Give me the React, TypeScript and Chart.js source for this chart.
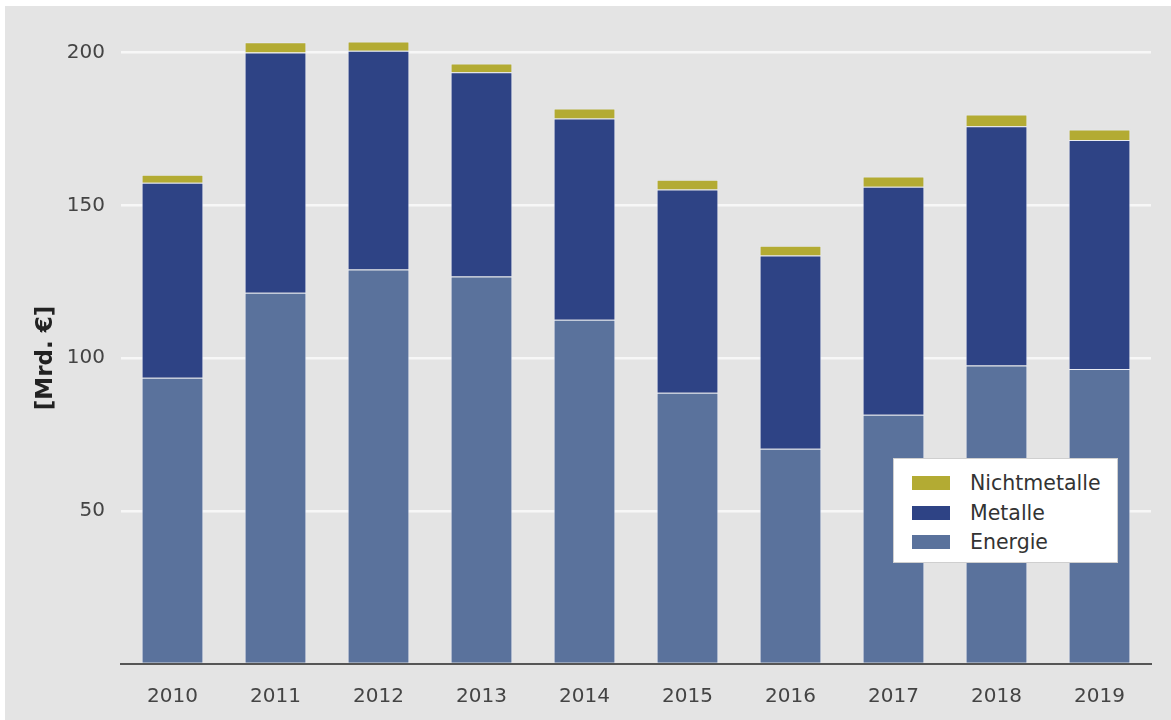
import React, { useEffect, useRef } from "react";
import { Chart, registerables } from "chart.js";

Chart.register(...registerables);

const years = ["2010", "2011", "2012", "2013", "2014", "2015", "2016", "2017", "2018", "2019"];
const energie = [93.6, 121.4, 129.0, 126.7, 112.6, 88.7, 70.4, 81.5, 97.6, 96.5];
const metalle = [63.8, 78.6, 71.6, 66.8, 65.8, 66.5, 63.2, 74.6, 78.3, 74.9];
const nichtmetalle = [2.6, 3.3, 3.0, 2.9, 3.3, 3.2, 3.2, 3.3, 3.8, 3.4];
const yTicks = [50, 100, 150, 200];

const COL_NICHT = "#b3ab33";
const COL_METALLE = "#2e4385";
const COL_ENERGIE = "#5a729c";
const FONT = "'DejaVu Sans', Verdana, sans-serif";

export default function App() {
  const ref = useRef<HTMLCanvasElement | null>(null);

  useEffect(() => {
    if (!ref.current) return;
    const border = "rgba(235,240,255,0.55)";
    const common = { borderColor: border, borderWidth: 1, barPercentage: 0.6, categoryPercentage: 1 };
    const chart = new Chart(ref.current, {
      type: "bar",
      data: {
        labels: years,
        datasets: [
          { label: "Energie", data: energie, backgroundColor: COL_ENERGIE, ...common },
          { label: "Metalle", data: metalle, backgroundColor: COL_METALLE, ...common },
          { label: "Nichtmetalle", data: nichtmetalle, backgroundColor: COL_NICHT, ...common },
        ],
      },
      options: {
        responsive: false,
        animation: false,
        layout: { padding: { top: 10, right: 20, bottom: 0, left: 0 } },
        plugins: { legend: { display: false }, tooltip: { enabled: false } },
        scales: {
          x: {
            stacked: true,
            grid: { display: false },
            border: { display: true, color: "#555555", width: 2 },
            ticks: { color: "#444444", font: { family: FONT, size: 20 }, padding: 13 },
            afterFit: (s: any) => { s.height = 56; },
          },
          y: {
            stacked: true,
            min: 0,
            max: 208,
            border: { display: false },
            grid: {
              drawTicks: false,
              lineWidth: 2.5,
              color: (ctx: any) => (yTicks.includes(ctx.tick?.value) ? "#f7f7f7" : "rgba(0,0,0,0)"),
            },
            ticks: {
              stepSize: 50,
              color: "#444444",
              font: { family: FONT, size: 20 },
              padding: 16,
              callback: (v: any) => (yTicks.includes(Number(v)) ? String(v) : ""),
            },
            title: {
              display: true,
              text: "[Mrd. €]   ",
              color: "#222222",
              font: { family: FONT, size: 23, weight: "bold" },
              padding: { top: 32, bottom: 0 },
            },
            afterFit: (s: any) => { s.width = 121; },
          },
        },
      },
    } as any);
    return () => chart.destroy();
  }, []);

  const legendItems = [
    { label: "Nichtmetalle", color: COL_NICHT },
    { label: "Metalle", color: COL_METALLE },
    { label: "Energie", color: COL_ENERGIE },
  ];

  return (
    <div style={{ position: "absolute", left: 0, top: 0, width: 1171, height: 720, background: "#ffffff", overflow: "hidden" }}>
      <div style={{ position: "absolute", left: 5, top: 6, width: 1166, height: 714, background: "#e4e4e4" }} />
      <canvas ref={ref} width={1171} height={720} style={{ position: "absolute", left: 0, top: 0, width: 1171, height: 720 }} />
      <div
        style={{
          position: "absolute",
          left: 893,
          top: 458,
          width: 225,
          height: 105,
          background: "#ffffff",
          border: "1px solid #cfcfcf",
          boxSizing: "border-box",
          fontFamily: FONT,
          fontSize: 20.5,
          color: "#333333",
        }}
      >
        {legendItems.map((it, i) => (
          <div key={it.label} style={{ position: "absolute", left: 18, top: 12 + i * 29.5, height: 24, display: "flex", alignItems: "center" }}>
            <span style={{ display: "inline-block", width: 38, height: 14, background: it.color, marginRight: 20 }} />
            <span>{it.label}</span>
          </div>
        ))}
      </div>
    </div>
  );
}
